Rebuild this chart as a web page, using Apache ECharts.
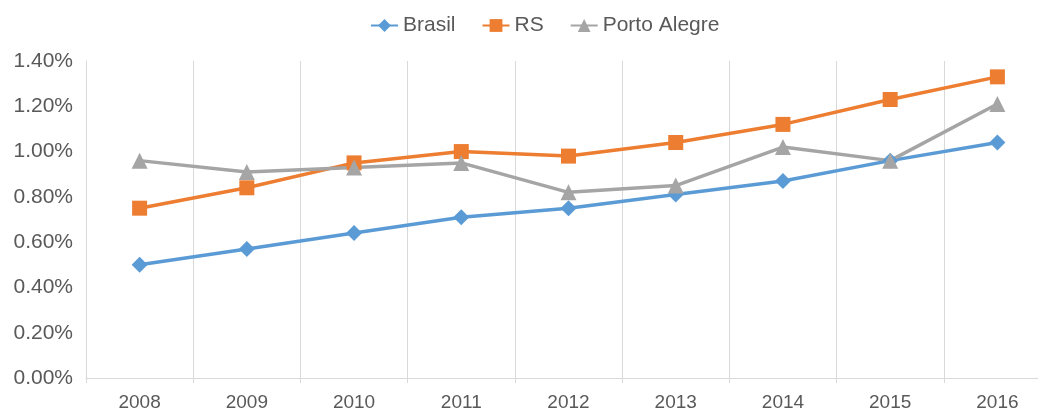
<!DOCTYPE html>
<html><head><meta charset="utf-8">
<script src="https://cdn.jsdelivr.net/npm/echarts@6/dist/echarts.min.js"></script>
<style>html,body{margin:0;padding:0;background:#fff}#c{width:1038px;height:410px}</style>
</head><body><div id="c"></div>
<script>
var categories = ['2008','2009','2010','2011','2012','2013','2014','2015','2016'];
var brasil = [0.50, 0.57, 0.64, 0.71, 0.75, 0.81, 0.87, 0.96, 1.04];
var rs = [0.75, 0.84, 0.95, 1.00, 0.98, 1.04, 1.12, 1.23, 1.33];
var portoAlegre = [0.96, 0.91, 0.93, 0.95, 0.82, 0.85, 1.02, 0.96, 1.21];

var chart = echarts.init(document.getElementById('c'));
var font = 'Liberation Sans, Arial, sans-serif';
function mk(name, data, color, symbol, size) {
  return {
    name: name, type: 'line', data: data,
    symbol: symbol, symbolSize: size,
    lineStyle: {color: color, width: 3.5},
    itemStyle: {color: color},
    emphasis: {disabled: true},
    animation: false
  };
}
chart.setOption({
  animation: false,
  legend: {
    top: 10, left: 365, itemGap: 26, itemWidth: 27, itemHeight: 16,
    textStyle: {color: '#595959', fontSize: 21, fontFamily: font}
  },
  grid: {left: 86, top: 61, width: 965, height: 317, containLabel: false, outerBoundsMode: 'none'},
  xAxis: {
    type: 'category', data: categories, boundaryGap: true,
    axisLine: {lineStyle: {color: '#d9d9d9', width: 1}},
    axisTick: {show: true, length: 5, lineStyle: {color: '#d9d9d9'}},
    splitLine: {show: true, lineStyle: {color: '#d9d9d9', width: 1}},
    axisLabel: {color: '#595959', fontSize: 19, fontFamily: font, margin: 15}
  },
  yAxis: {
    type: 'value', min: 0, max: 1.4, interval: 0.2,
    axisLine: {show: true, lineStyle: {color: '#d9d9d9'}},
    axisTick: {show: false},
    splitLine: {show: false},
    axisLabel: {color: '#595959', fontSize: 21, fontFamily: font, margin: 13,
      formatter: function (v) { return v.toFixed(2) + '%'; }}
  },
  series: [
    mk('Brasil', brasil, '#5B9BD5', 'diamond', 16),
    mk('RS', rs, '#ED7D31', 'rect', 15),
    mk('Porto Alegre', portoAlegre, '#A5A5A5', 'triangle', 16)
  ]
});
</script></body></html>
